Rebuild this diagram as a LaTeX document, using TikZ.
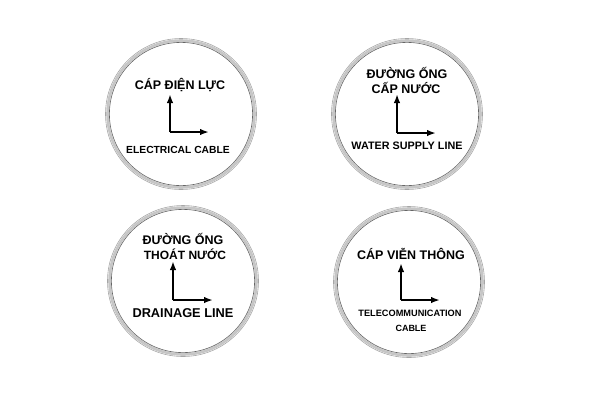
\documentclass[tikz,border=0pt]{standalone}
\usepackage{fontspec}
\setmainfont{Liberation Sans}
\usetikzlibrary{arrows.meta}

\begin{document}
\begin{tikzpicture}[x=1pt,y=-1pt,>={Latex[length=9pt,width=6.5pt]},
  lbl/.style={font=\bfseries\fontsize{#1}{#1}\selectfont,inner sep=0pt,align=center},
  lbl/.default=12.5,
  axis/.style={->,line width=2.2pt}]
\useasboundingbox (0,0) rectangle (600,400);
% rings
\foreach \cx/\cy in {181/114, 407/114, 183/281, 409/282} {
  \draw[gray!70,line width=0.6pt] (\cx,\cy) circle (75.5);
  \draw[gray!45,line width=2.6pt] (\cx,\cy) circle (73.5);
  \draw[gray!80!black,line width=0.6pt] (\cx,\cy) circle (71.6);
}
% electrical cable
\node[lbl] (e1) at (180,85) {CÁP ĐIỆN LỰC};
\node[lbl=10.3] (e2) at (178,150) {ELECTRICAL CABLE};
\coordinate (ec) at (170,132);
\coordinate (eu) at (170,94);
\coordinate (er) at (209,132);
\draw [axis] (ec) -- (eu);
\draw [axis] (ec) -- (er);
% water supply line
\node[lbl] (w1) at (407,73) {ĐƯỜNG ỐNG};
\node[lbl] (w2) at (406,88) {CẤP NƯỚC};
\node[lbl=10.8] (w3) at (407,146) {WATER SUPPLY LINE};
\coordinate (wc) at (397,133);
\coordinate (wu) at (397,94);
\coordinate (wr) at (436,133);
\draw [axis] (wc) -- (wu);
\draw [axis] (wc) -- (wr);
% drainage line
\node[lbl] (d1) at (183,239) {ĐƯỜNG ỐNG};
\node[lbl=12] (d2) at (185,254) {THOÁT NƯỚC};
\node[lbl=12.8] (d3) at (183,313) {DRAINAGE LINE};
\coordinate (dc) at (173,300);
\coordinate (du) at (173,261);
\coordinate (dr) at (213,300);
\draw [axis] (dc) -- (du);
\draw [axis] (dc) -- (dr);
% telecommunication cable
\node[lbl] (t1) at (411,254) {CÁP VIỄN THÔNG};
\node[lbl=9.2] (t2) at (410,313) {TELECOMMUNICATION};
\node[lbl=9] (t3) at (411,328) {CABLE};
\coordinate (tc) at (401,300);
\coordinate (tu) at (401,263);
\coordinate (tr) at (440,300);
\draw [axis] (tc) -- (tu);
\draw [axis] (tc) -- (tr);
\end{tikzpicture}
\end{document}
